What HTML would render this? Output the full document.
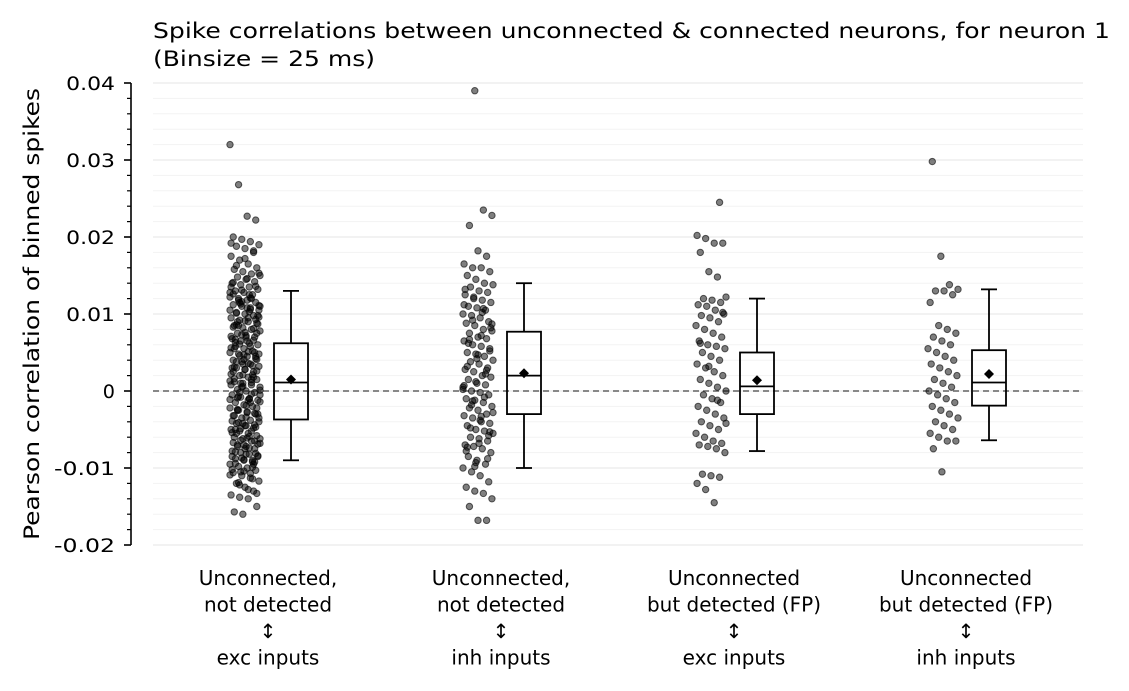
<!DOCTYPE html>
<html><head><meta charset="utf-8">
<style>
body{margin:0;background:#fff;}
svg{display:block;font-family:"DejaVu Sans","Liberation Sans",sans-serif;}
</style></head>
<body>
<svg id="chart" width="1129" height="691" viewBox="0 0 1129 691">
<text x="153" y="38" font-size="21" textLength="957" lengthAdjust="spacingAndGlyphs">Spike correlations between unconnected &amp; connected neurons, for neuron 1</text>
<text x="153" y="66" font-size="21" textLength="222" lengthAdjust="spacingAndGlyphs">(Binsize = 25 ms)</text>
<text transform="translate(39,314) rotate(-90)" text-anchor="middle" font-size="21" textLength="452" lengthAdjust="spacingAndGlyphs">Pearson correlation of binned spikes</text>
<g id="grid"></g>
<g id="axis"></g>
<g id="marks"></g>
<g id="xlabels"></g>
</svg>
<script>
const categories=[["Unconnected,","not detected","↕","exc inputs"],["Unconnected,","not detected","↕","inh inputs"],["Unconnected","but detected (FP)","↕","exc inputs"],["Unconnected","but detected (FP)","↕","inh inputs"]];
const yTicks=[0.04,0.03,0.02,0.01,0,-0.01,-0.02];
const yTickLabels=["0.04","0.03","0.02","0.01","0","-0.01","-0.02"];
const boxWhiskerHigh=[0.013,0.014,0.012,0.0132];
const boxQ3=[0.0062,0.0077,0.005,0.0053];
const boxMedian=[0.0011,0.002,0.0006,0.0011];
const boxMean=[0.0015,0.0023,0.0014,0.0022];
const boxQ1=[-0.0037,-0.003,-0.003,-0.0019];
const boxWhiskerLow=[-0.009,-0.010,-0.0078,-0.0064];
const pointsG1=[0.032,0.0268,0.0227,0.0222,0.02,0.0197,0.0194,0.019,0.0188,0.0185,0.018,0.0175,0.017,0.0165,0.016,0.0158,0.0155,0.0152,0.015,0.0148,0.0145,0.0142,0.014,0.0138,0.0135,0.0132,0.013,0.0128,0.0125,0.0122,0.012,0.0118,0.0115,0.0112,0.011,0.0108,0.0105,0.0102,0.01,0.0098,0.0095,0.0092,0.009,0.0088,0.0085,0.0082,0.008,0.0078,0.0075,0.0072,0.007,0.0068,0.0065,0.0062,0.006,0.0058,0.0055,0.0052,0.005,0.0048,0.0045,0.0042,0.004,0.0038,0.0035,0.0032,0.003,0.0028,0.0025,0.0022,0.002,0.0018,0.0015,0.0012,0.001,0.0008,0.0005,0.0002,0,-0.0002,-0.0005,-0.0008,-0.001,-0.0012,-0.0015,-0.0018,-0.002,-0.0022,-0.0025,-0.0028,-0.003,-0.0032,-0.0035,-0.0038,-0.004,-0.0042,-0.0045,-0.0048,-0.005,-0.0052,-0.0055,-0.0058,-0.006,-0.0062,-0.0065,-0.0068,-0.007,-0.0072,-0.0075,-0.0078,-0.008,-0.0082,-0.0085,-0.0088,-0.009,-0.0092,-0.0095,-0.0098,-0.01,-0.0103,-0.0106,-0.011,-0.0113,-0.0117,-0.012,-0.0125,-0.013,-0.0135,-0.0138,-0.014,-0.015,-0.0157,-0.016,0.012,0.011,0.009,0.007,0.005,0.003,0.001,-0.001,-0.003,-0.005,-0.007,-0.009,0.0105,0.0085,0.0065,0.0045,0.0025,0.0005,-0.0015,-0.0035,-0.0055,-0.0075,-0.0095,0.0135,0.0115,0.0095,0.0075,0.0055,0.0035,0.0015,-0.0005,-0.0025,-0.0045,-0.0065,-0.0085,-0.0105,0.0125,0.0098,0.0063,0.0041,0.0021,-0.0011,-0.0041,-0.0061,-0.0081,
0.0141,0.0131,0.0121,0.0111,0.0101,0.0091,0.0081,0.0071,0.0061,0.0051,0.0041,0.0031,0.0021,0.0011,0.0001,-0.0009,-0.0019,-0.0029,-0.0039,-0.0049,-0.0059,-0.0069,-0.0079,-0.0089,-0.0099,-0.0109,-0.0119,
0.0146,0.0136,0.0126,0.0116,0.0106,0.0096,0.0086,0.0076,0.0066,0.0056,0.0046,0.0036,0.0026,0.0016,0.0006,-0.0004,-0.0014,-0.0024,-0.0034,-0.0044,-0.0054,-0.0064,-0.0074,-0.0084,-0.0094,-0.0104,-0.0114,
0.0128,0.0118,0.0108,0.0093,0.0083,0.0073,0.0058,0.0048,0.0038,0.0028,0.0018,0.0008,-0.0002,-0.0012,-0.0022,-0.0032,-0.0042,-0.0052,-0.0062,-0.0072,-0.0082,-0.0092,-0.0102,
0.0113,0.0103,0.0087,0.0067,0.0047,0.0033,0.0013,-0.0007,-0.0027,-0.0047,-0.0067,-0.0087,-0.0107,0.0153,0.0163,0.0172,0.0182,0.0192,-0.0122,-0.0128,-0.0133];
const pointsG2=[0.039,0.0235,0.0228,0.0215,0.0182,0.0175,0.0165,0.016,0.016,0.0155,0.015,0.0145,0.014,0.0138,0.0135,0.013,0.0128,0.0125,0.012,0.0118,0.0115,0.011,0.0108,0.0105,0.01,0.0098,0.0095,0.009,0.0088,0.0085,0.008,0.0078,0.0075,0.007,0.0068,0.0065,0.006,0.0058,0.0055,0.005,0.0048,0.0045,0.004,0.0038,0.0035,0.003,0.0028,0.0025,0.002,0.0018,0.0015,0.001,0.0008,0.0005,0,-0.0002,-0.0005,-0.001,-0.0012,-0.0015,-0.002,-0.0022,-0.0025,-0.003,-0.0032,-0.0035,-0.004,-0.0042,-0.0045,-0.005,-0.0052,-0.0055,-0.006,-0.0062,-0.0065,-0.007,-0.0072,-0.0075,-0.008,-0.0085,-0.009,-0.0095,-0.01,-0.0105,-0.011,-0.0118,-0.0125,-0.013,-0.0133,-0.014,-0.015,-0.0168,-0.0168,0.0112,0.0092,0.0072,0.0052,0.0032,0.0012,-0.0008,-0.0028,-0.0048,-0.0068,-0.0088,
0.0132,0.0122,0.0102,0.0082,0.0062,0.0042,0.0022,0.0002,-0.0018,-0.0038,-0.0058,-0.0078,-0.0098,0.0107,0.0087,0.0067,0.0047,0.0027,0.0007,-0.0013,-0.0033,-0.0053,-0.0073,-0.0093];
const pointsG3=[0.0245,0.0202,0.0198,0.0192,0.0192,0.018,0.0155,0.0148,0.0122,0.012,0.0118,0.0115,0.0112,0.011,0.0105,0.01,0.0098,0.0095,0.009,0.0085,0.008,0.0075,0.007,0.0065,0.006,0.0058,0.0055,0.005,0.0045,0.004,0.0035,0.003,0.0025,0.002,0.0015,0.001,0.0005,0,-0.0005,-0.001,-0.0015,-0.002,-0.0025,-0.003,-0.0035,-0.004,-0.0045,-0.005,-0.0055,-0.006,-0.0065,-0.0068,-0.007,-0.0072,-0.0075,-0.008,-0.0108,-0.011,-0.0112,-0.012,-0.0128,-0.0145,0.0102,0.0062,0.0032,-0.0012,-0.0042];
const pointsG4=[0.0298,0.0175,0.0138,0.0132,0.013,0.013,0.0125,0.0115,0.0085,0.008,0.0075,0.007,0.0065,0.006,0.0055,0.005,0.0045,0.004,0.0035,0.003,0.0025,0.002,0.0015,0.001,0.0005,0,-0.0005,-0.001,-0.0015,-0.002,-0.0025,-0.003,-0.0035,-0.004,-0.0045,-0.005,-0.0055,-0.006,-0.0065,-0.0065,-0.0075,-0.0105];
const points=[pointsG1,pointsG2,pointsG3,pointsG4];

const NS="http://www.w3.org/2000/svg";
const y0=83,y1=545,vmax=0.04,vmin=-0.02;
function yScale(v){return y0+(vmax-v)/(vmax-vmin)*(y1-y0);}
const labelCenters=[268,501,734,966];
function stripX(i){return labelCenters[i]-23;}
function boxX(i){return labelCenters[i]+23;}
function mk(tag,attrs,parent){const e=document.createElementNS(NS,tag);for(const k in attrs)e.setAttribute(k,attrs[k]);parent.appendChild(e);return e;}
const grid=document.getElementById('grid'),axis=document.getElementById('axis'),marks=document.getElementById('marks'),xl=document.getElementById('xlabels');
for(let k=0;k<=30;k++){const v=vmin+k*0.002;const y=yScale(v);
 const major=Math.abs(Math.round(v*100)-v*100)<1e-6;
 const g=mk('line',{x1:153,x2:1083,y1:y,y2:y,stroke:major?'#e6e6e6':'#f3f3f3','stroke-width':1},grid);
 
 
 const t=mk('line',{x1:major?124:127,x2:131,y1:y,y2:y,stroke:'#000','stroke-width':major?1.6:1.2},axis);
 
 
}
const al=mk('line',{x1:131,x2:131,y1:y0,y2:y1,stroke:'#000','stroke-width':1.6},axis);


yTicks.forEach((v,i)=>{const t=mk('text',{x:115,y:yScale(v)+7,'text-anchor':'end','font-size':19,textLength:yTickLabels[i].length*12.2,lengthAdjust:'spacingAndGlyphs'},axis);t.textContent=yTickLabels[i];
 
 });
const zl=mk('line',{x1:153,x2:1083,y1:yScale(0),y2:yScale(0),stroke:'#777','stroke-width':1.8,'stroke-dasharray':'6,4'},marks);


points.forEach((arr,gi)=>{arr.forEach((v,j)=>{
 const off=(((j*37+gi*11)%29)/28-0.5)*30;
 const c=mk('circle',{cx:stripX(gi)+off,cy:yScale(v),r:3.2,fill:'rgba(0,0,0,0.5)',stroke:'rgba(0,0,0,0.6)','stroke-width':1},marks);
 
 
});});
for(let i=0;i<4;i++){const x=boxX(i),w=34;
 const g=mk('g',{},marks);
 
 
 const s={stroke:'#000','stroke-width':1.8,fill:'none'};
 mk('line',Object.assign({x1:x,x2:x,y1:yScale(boxWhiskerHigh[i]),y2:yScale(boxQ3[i])},s),g);
 mk('line',Object.assign({x1:x,x2:x,y1:yScale(boxQ1[i]),y2:yScale(boxWhiskerLow[i])},s),g);
 mk('line',Object.assign({x1:x-8,x2:x+8,y1:yScale(boxWhiskerHigh[i]),y2:yScale(boxWhiskerHigh[i])},s),g);
 mk('line',Object.assign({x1:x-8,x2:x+8,y1:yScale(boxWhiskerLow[i]),y2:yScale(boxWhiskerLow[i])},s),g);
 mk('rect',Object.assign({x:x-w/2,y:yScale(boxQ3[i]),width:w,height:yScale(boxQ1[i])-yScale(boxQ3[i])},s),g);
 mk('line',Object.assign({x1:x-w/2,x2:x+w/2,y1:yScale(boxMedian[i]),y2:yScale(boxMedian[i])},s),g);
 const my=yScale(boxMean[i]);
 mk('polygon',{points:`${x},${my-5} ${x+5},${my} ${x},${my+5} ${x-5},${my}`,fill:'#000'},g);
}
categories.forEach((lines,i)=>{lines.forEach((s,k)=>{const t=mk('text',{x:labelCenters[i],y:585+k*26.5,'text-anchor':'middle','font-size':20},xl);t.textContent=s;
 
 });});
</script>
</body></html>
